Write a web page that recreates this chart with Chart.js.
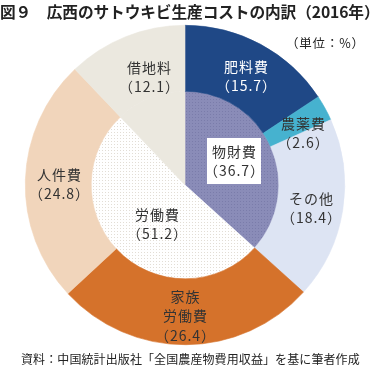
<!DOCTYPE html>
<html><head><meta charset="utf-8">
<script src="https://cdn.jsdelivr.net/npm/chart.js@4"></script>
<style>
html,body{margin:0;padding:0;background:#fff;}
#wrap{position:relative;width:375px;height:370px;overflow:hidden;font-family:"Noto Sans CJK JP","Noto Sans",sans-serif;color:#222;}
#c{position:absolute;left:0;top:0;}
.t{position:absolute;white-space:nowrap;}
#title{left:0px;top:0px;font-size:15.7px;font-weight:bold;letter-spacing:-0.1px;}
#unit{left:286px;top:33px;font-size:12.5px;letter-spacing:0.8px;}
#src{left:21px;top:350px;font-size:12px;letter-spacing:0.1px;}
</style></head><body>
<div id="wrap">
<canvas id="c" width="375" height="370"></canvas>
<div class="t" id="title">図９　広西のサトウキビ生産コストの内訳（2016年）</div>
<div class="t" id="unit">（単位：%）</div>
<div class="t" id="src">資料：中国統計出版社「全国農産物費用収益」を基に筆者作成</div>
</div>
<script>
// ---- data ----
const outerCategories = ['肥料費', '農薬費', 'その他', '家族\n労働費', '人件費', '借地料'];
const outerValues = [15.7, 2.6, 18.4, 26.4, 24.8, 12.1];
const innerCategories = ['物財費', '労働費', '借地料'];
const innerValues = [36.7, 51.2, 12.1];

// ---- styles ----
function dotPattern(bg, dot, size) {
  const p = document.createElement('canvas');
  p.width = size; p.height = size;
  const g = p.getContext('2d');
  g.fillStyle = bg; g.fillRect(0, 0, size, size);
  g.fillStyle = dot; g.fillRect(0, 0, 1, 1);
  return g.createPattern(p, 'repeat');
}
const outerColors = ['#1f4886', '#46b2cf', '#dde4f3', '#d5722b', '#f1d5bb', '#ebe8df'];
const innerSolid = ['#8a8cb8', '#ffffff', '#ebe8df'];
const innerFill = [dotPattern('#8a8cb8', '#7a7caa', 3), dotPattern('#ffffff', '#e2ddd5', 3), '#ebe8df'];

const outerLabelStyle = [
  {dx: 61, dy: -109, color: '#ffffff'},
  {dx: 118, dy: -52, color: '#333333'},
  {dx: 126, dy: 23, color: '#333333'},
  {dx: 0, dy: 131, color: '#333333'},
  {dx: -126, dy: -1, color: '#333333'},
  {dx: -36, dy: -108, color: '#333333'}
];
const innerLabelStyle = [
  {dx: 49, dy: -24, color: '#333333', box: true},
  {dx: -28, dy: 39, color: '#333333'},
  null
];

const labelPlugin = {
  id: 'segLabels',
  afterDatasetsDraw(chart) {
    const ctx = chart.ctx;
    ctx.save();
    ctx.font = '14px "Noto Sans CJK JP", sans-serif';
    ctx.letterSpacing = '1px';
    ctx.textAlign = 'center';
    ctx.textBaseline = 'middle';
    const draw = (metaIdx, cats, vals, styles) => {
      const meta = chart.getDatasetMeta(metaIdx);
      meta.data.forEach((arc, i) => {
        const st = styles[i];
        if (!st) return;
        const lines = cats[i].split('\n').concat(['（' + vals[i].toFixed(1) + '）']);
        const lh = 19.5;
        const cx = arc.x + st.dx, cy = arc.y + st.dy;
        const top = cy - (lines.length - 1) * lh / 2;
        if (st.box) {
          ctx.fillStyle = '#ffffff';
          ctx.fillRect(cx - 27, cy - 23, 54, 46);
        }
        ctx.fillStyle = st.color;
        lines.forEach((ln, k) => ctx.fillText(ln, cx + 0.5, top + k * lh));
      });
    };
    draw(0, outerCategories, outerValues, outerLabelStyle);
    draw(1, innerCategories, innerValues, innerLabelStyle);
    ctx.restore();
  }
};

new Chart(document.getElementById('c'), {
  type: 'pie',
  data: {
    labels: outerCategories,
    datasets: [
      {data: outerValues, backgroundColor: outerColors, borderColor: outerColors, borderWidth: 0.6, weight: 66},
      {data: innerValues, backgroundColor: innerFill, borderColor: innerSolid, borderWidth: 0.6, weight: 94}
    ]
  },
  options: {
    responsive: false,
    animation: false,
    layout: {padding: {top: 25, bottom: 25, left: 25, right: 30}},
    plugins: {legend: {display: false}, tooltip: {enabled: false}, title: {display: false}}
  },
  plugins: [labelPlugin]
});
</script>
</body></html>
